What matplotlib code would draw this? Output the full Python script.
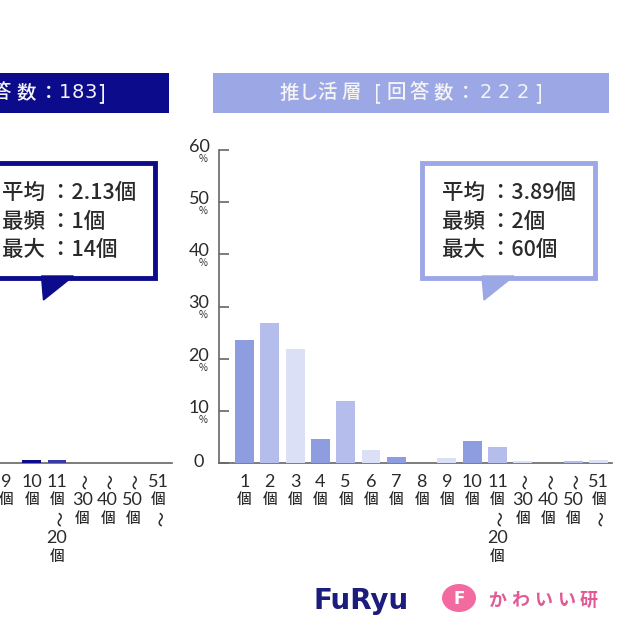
import matplotlib
matplotlib.use('Agg')
import matplotlib.pyplot as plt
from matplotlib.patches import Rectangle, Polygon, Ellipse
from matplotlib.transforms import blended_transform_factory

plt.rcParams['font.family'] = ['Noto Sans CJK JP', 'DejaVu Sans']

# ---- data ----
tick_lines = [["1", "個"], ["2", "個"], ["3", "個"], ["4", "個"], ["5", "個"],
              ["6", "個"], ["7", "個"], ["8", "個"], ["9", "個"], ["10", "個"],
              ["11", "個", "〜", "20", "個"], ["〜", "30", "個"], ["〜", "40", "個"],
              ["〜", "50", "個"], ["51", "個", "〜"]]
y_ticks = [0, 10, 20, 30, 40, 50, 60]

left_header = "非推し活層 [回答数：183]"
left_stats = ["平均 ：2.13個", "最頻 ：1個", "最大 ：14個"]
left_values = [45.0, 25.0, 14.0, 6.0, 4.5, 1.5, 1.0, 0.5, 0.0, 0.55, 0.55, 0.0, 0.0, 0.0, 0.0]

right_header = "推し活層 [回答数：222]"
right_stats = ["平均 ：3.89個", "最頻 ：2個", "最大 ：60個"]
right_values = [23.6, 26.8, 21.8, 4.6, 11.9, 2.4, 1.1, 0.0, 0.9, 4.2, 3.1, 0.4, 0.0, 0.45, 0.5]

logo_text = "かわいい研"

W = H = 640
fig = plt.figure(figsize=(6.4, 6.4), dpi=100)
fig.patch.set_facecolor('white')

TXT = '#2a2a2a'
AX = '#666666'
NUMF = ['Lato', 'Noto Sans CJK JP']


def panel(off, values, colors):
    ax = fig.add_axes([(219 + off) / W, 1 - 463 / H, 393 / W, 313 / H])
    xs = list(range(len(values)))
    ax.bar(xs, values, width=0.75, color=[colors[i % 3] for i in xs], zorder=3)
    ax.set_xlim(-1.008, 14.526)
    ax.set_ylim(0, 60)
    for s in ['top', 'right']:
        ax.spines[s].set_visible(False)
    for s in ['left', 'bottom']:
        ax.spines[s].set_color(AX)
        ax.spines[s].set_linewidth(1.2)
    ax.set_facecolor('none')
    ax.set_xticks([])
    ax.set_yticks(y_ticks)
    ax.tick_params(axis='y', direction='in', length=7, width=1.2, color=AX,
                   labelleft=False)
    tr = blended_transform_factory(ax.transData, fig.transFigure)
    tr_y = blended_transform_factory(fig.transFigure, ax.transData)
    rows = [482, 500, 519, 538, 557]
    for i, lines in enumerate(tick_lines):
        for j, ln in enumerate(lines):
            yy = 1 - rows[j] / H
            if ln == "〜":
                ax.text(i, yy, "〜", transform=tr, ha='center', va='center',
                        fontsize=11, color=TXT, rotation=-90, clip_on=False,
                        fontweight='medium')
            elif ln == "個":
                ax.text(i, yy, ln, transform=tr, ha='center', va='center',
                        fontsize=10.5, color=TXT, clip_on=False,
                        fontweight='medium')
            else:
                ax.text(i, yy, ln, transform=tr, ha='center', va='center',
                        fontsize=13, color=TXT, clip_on=False, family=NUMF)
    for t in y_ticks:
        if t == 0:
            ax.text((199 + off) / W, t + 0.2, "0", transform=tr_y, ha='center',
                    va='center', fontsize=13, color=TXT, clip_on=False,
                    family=NUMF)
        else:
            ax.text((199 + off) / W, t + 0.6, str(t), transform=tr_y, ha='center',
                    va='center', fontsize=13, color=TXT, clip_on=False,
                    family=NUMF)
            ax.text((203 + off) / W, t - 1.7, "%", transform=tr_y, ha='center',
                    va='center', fontsize=7, color=TXT, clip_on=False)
    return ax


panel(-440.5, left_values, ['#0b0b8c', '#3b3ba6', '#8585c8'])
panel(0, right_values, ['#8e9ce0', '#b4bdec', '#dce0f6'])

ov = fig.add_axes([0, 0, 1, 1])
ov.set_xlim(0, W)
ov.set_ylim(H, 0)
ov.axis('off')


def char_adv(ch, adv):
    if ch.isdigit():
        return adv['d']
    if ch in '[]':
        return adv['b']
    if ch == ' ':
        return adv['s']
    if ch == '：':
        return adv['c']
    if ch == 'し':
        return adv['k']
    return adv['w']


def spaced(text, x_last_center, y, adv, **kw):
    advs = [char_adv(c, adv) for c in text]
    centers = [0.0]
    for i in range(1, len(text)):
        centers.append(centers[-1] + (advs[i - 1] + advs[i]) / 2)
    shift = x_last_center - centers[-1]
    for c, cx in zip(text, centers):
        if c == ' ':
            continue
        fam = ['DejaVu Sans'] if c.isdigit() else ['Noto Sans CJK JP', 'DejaVu Sans']
        ov.text(cx + shift, y, c, ha='center', va='center', family=fam, **kw)


RADV = dict(w=23.3, k=14.7, b=13.7, s=8.5, c=21.7, d=18.5)
LADV = dict(w=25.0, k=15.5, b=10.0, s=8.5, c=20.0, d=12.6)


def deco(off, header, hx, adv, hcolor, stats, border):
    ov.add_patch(Rectangle((213 + off, 73), 396, 40, facecolor=hcolor,
                           edgecolor='none'))
    spaced(header, hx, 93, adv, fontsize=14, color='#f4f4f4',
           fontweight='medium')
    ov.add_patch(Rectangle((422 + off, 163), 173, 115, facecolor='white',
                           edgecolor=border, linewidth=3.5, zorder=4))
    ov.add_patch(Polygon([(482 + off, 276), (514 + off, 276), (484 + off, 300)],
                         closed=True, facecolor=border, edgecolor=border,
                         linewidth=1, zorder=5))
    for s, yy in zip(stats, [193, 222, 250]):
        ov.text(442 + off, yy, s, ha='left', va='center', fontsize=15.5,
                color=TXT, zorder=6, fontweight='medium')


deco(-440.5, left_header, 101.5, LADV, '#0b0b8c', left_stats, '#0b0b8c')
deco(0, right_header, 538.5, RADV, '#9ca7e6', right_stats, '#9ca7e6')

# logos
ov.text(314, 601, "FuRyu", ha='left', va='center', fontsize=20,
        fontweight='bold', color='#1c1c7c', family=['DejaVu Sans'])
ov.add_patch(Ellipse((459, 598), 34, 28, facecolor='#f36aa0', edgecolor='none'))
ov.text(459, 599, "F", ha='center', va='center', fontsize=12,
        fontweight='bold', color='white', family=['DejaVu Sans'])
for k, ch in enumerate(logo_text):
    ov.text(497 + k * 23, 600, ch, ha='center', va='center', fontsize=13,
            color='#e25a95', fontweight='bold')

fig.savefig('out.png', dpi=100, facecolor='white')
